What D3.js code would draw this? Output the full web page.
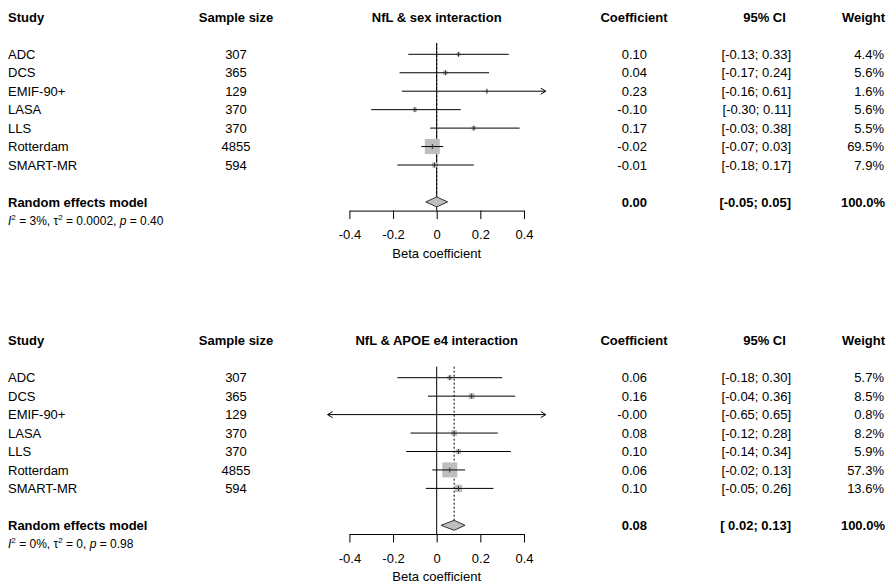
<!DOCTYPE html>
<html><head><meta charset="utf-8">
<script src="https://cdn.jsdelivr.net/npm/d3@7"></script>
<style>
body{margin:0;background:#fff}
text{font-family:"Liberation Sans",Arial,Helvetica,sans-serif;fill:#000}
</style>
</head><body>
<svg id="chart" width="896" height="584"></svg>
<script>
// ---------- data ----------
const studies = ["ADC","DCS","EMIF-90+","LASA","LLS","Rotterdam","SMART-MR"];
const sampleSize = [307,365,129,370,370,4855,594];

const sexCoef   = [0.10, 0.04, 0.23, -0.10, 0.17, -0.02, -0.01];
const sexLower  = [-0.13,-0.17,-0.16,-0.30,-0.03,-0.07,-0.18];
const sexUpper  = [0.33, 0.24, 0.61, 0.11, 0.38, 0.03, 0.17];
const sexWeight = [4.4, 5.6, 1.6, 5.6, 5.5, 69.5, 7.9];
const sexPooled = [0.00, -0.05, 0.05];           // estimate, lower, upper
const sexHet    = ["3%", "0.0002", "0.40"];      // I2, tau2, p

const apoeCoef   = [0.06, 0.16, -0.001, 0.08, 0.10, 0.06, 0.10];
const apoeLower  = [-0.18,-0.04,-0.65,-0.12,-0.14,-0.02,-0.05];
const apoeUpper  = [0.30, 0.36, 0.65, 0.28, 0.34, 0.13, 0.26];
const apoeWeight = [5.7, 8.5, 0.8, 8.2, 5.9, 57.3, 13.6];
const apoePooled = [0.08, 0.02, 0.13];
const apoeHet    = ["0%", "0", "0.98"];

const headers = ["Study","Sample size","Coefficient","95% CI","Weight"];
const tickValues = [-0.4,-0.2,0,0.2,0.4];
const xLimits = [-0.5, 0.5];

// ---------- drawing ----------
const svg = d3.select("#chart");
const FS = 13;
const x = d3.scaleLinear().domain(xLimits).range([327.6, 545.8]);
const fmt2 = v => v.toFixed(2);
const fmtLo = v => (v >= 0 ? "\u00A0" : "") + v.toFixed(2);
const fmtCI = (lo, hi) => "[" + fmtLo(lo) + "; " + hi.toFixed(2) + "]";
const fmtW = w => w.toFixed(1) + "%";
const GRAY = "#bebebe";

function txt(g, xx, yy, s, anchor, bold) {
  return g.append("text").attr("x", xx).attr("y", yy).attr("dy", "0.36em")
    .attr("text-anchor", anchor || "start")
    .attr("font-size", FS).attr("font-weight", bold ? "bold" : "normal")
    .text(s);
}

function panel(title, coef, lower, upper, weight, pooled, het, yOff) {
  const g = svg.append("g").attr("transform", `translate(0,${yOff})`);
  const step = 18.45;
  const y0 = 54.3;
  const rowY = i => y0 + i * step;
  const headY = 17.3;
  const poolY = rowY(8);
  const hetY = poolY + 18.5;
  const axisY = poolY + 8.7;
  const lineTop = y0 - 11;

  // headers
  txt(g, 8, headY, headers[0], "start", true);
  txt(g, 236, headY, headers[1], "middle", true);
  txt(g, x(0), headY, title, "middle", true);
  txt(g, 634, headY, headers[2], "middle", true);
  txt(g, 764.5, headY, headers[3], "middle", true);
  txt(g, 885, headY, headers[4], "end", true);

  // study rows text
  studies.forEach((s, i) => {
    txt(g, 8, rowY(i), s, "start", false);
    txt(g, 236, rowY(i), String(sampleSize[i]), "middle", false);
    txt(g, 647, rowY(i), fmt2(coef[i]), "end", false);
    txt(g, 791, rowY(i), fmtCI(lower[i], upper[i]), "end", false);
    txt(g, 884, rowY(i), fmtW(weight[i]), "end", false);
  });

  // pooled row text
  txt(g, 8, poolY, "Random effects model", "start", true);
  txt(g, 647, poolY, fmt2(pooled[0]), "end", true);
  txt(g, 791, poolY, fmtCI(pooled[1], pooled[2]), "end", true);
  txt(g, 885, poolY, "100.0%", "end", true);

  // heterogeneity text
  const ht = g.append("text").attr("x", 8).attr("y", hetY).attr("dy", "0.36em")
    .attr("font-size", 12);
  ht.append("tspan").attr("font-style", "italic").text("I");
  ht.append("tspan").attr("font-size", 8).attr("dy", -5).text("2");
  ht.append("tspan").attr("dy", 5).text(" = " + het[0] + ", \u03C4");
  ht.append("tspan").attr("font-size", 8).attr("dy", -5).text("2");
  ht.append("tspan").attr("dy", 5).text(" = " + het[1] + ", ");
  ht.append("tspan").attr("font-style", "italic").text("p");
  ht.append("tspan").text(" = " + het[2]);

  // reference line at 0
  g.append("line").attr("x1", x(0)).attr("x2", x(0))
    .attr("y1", lineTop).attr("y2", axisY)
    .attr("stroke", "#000").attr("stroke-width", 1);
  // pooled dotted line
  g.append("line").attr("x1", x(pooled[0])).attr("x2", x(pooled[0]))
    .attr("y1", lineTop).attr("y2", poolY - 5)
    .attr("stroke", "#000").attr("stroke-width", 1).attr("stroke-dasharray", "2,2");

  // squares
  const sz = d3.scaleSqrt().domain([0, d3.max(weight)]).range([0, 15]);
  studies.forEach((s, i) => {
    const cy = rowY(i);
    const side = sz(weight[i]);
    g.append("rect").attr("x", x(coef[i]) - side / 2).attr("y", cy - side / 2)
      .attr("width", side).attr("height", side).attr("fill", GRAY);
  });

  // CI lines with arrows when clipped
  studies.forEach((s, i) => {
    const cy = rowY(i);
    const lo = Math.max(lower[i], xLimits[0]);
    const hi = Math.min(upper[i], xLimits[1]);
    g.append("line").attr("x1", x(lo)).attr("x2", x(hi)).attr("y1", cy).attr("y2", cy)
      .attr("stroke", "#000").attr("stroke-width", 1);
    if (upper[i] > xLimits[1]) {
      const ax = x(xLimits[1]);
      g.append("path").attr("d", `M${ax-5},${cy-3}L${ax},${cy}L${ax-5},${cy+3}`)
        .attr("fill", "none").attr("stroke", "#000").attr("stroke-width", 1);
    }
    if (lower[i] < xLimits[0]) {
      const ax = x(xLimits[0]);
      g.append("path").attr("d", `M${ax+5},${cy-3}L${ax},${cy}L${ax+5},${cy+3}`)
        .attr("fill", "none").attr("stroke", "#000").attr("stroke-width", 1);
    }
    // estimate mark
    g.append("line").attr("x1", x(coef[i])).attr("x2", x(coef[i]))
      .attr("y1", cy - 2.5).attr("y2", cy + 2.5)
      .attr("stroke", "#333").attr("stroke-width", 1);
  });

  // diamond
  g.append("path")
    .attr("d", `M${x(pooled[1])},${poolY}L${x(pooled[0])},${poolY-5}L${x(pooled[2])},${poolY}L${x(pooled[0])},${poolY+5}Z`)
    .attr("fill", GRAY).attr("stroke", "#333").attr("stroke-width", 1);

  // axis
  const xa = d3.scaleLinear().domain([tickValues[0], tickValues[tickValues.length-1]])
    .range([x(tickValues[0]), x(tickValues[tickValues.length-1])]);
  const axG = g.append("g").attr("transform", `translate(0,${axisY})`)
    .call(d3.axisBottom(xa).tickValues(tickValues).tickSize(8.5).tickSizeOuter(0)
      .tickPadding(11).tickFormat(d => String(d)));
  axG.selectAll("text").attr("font-size", FS).attr("font-family", '"Liberation Sans",Arial,sans-serif').attr("fill", "#000");
  axG.selectAll("path,line").attr("stroke", "#000");
  txt(g, x(0), axisY + 42.6, "Beta coefficient", "middle", false);
}

panel("NfL & sex interaction", sexCoef, sexLower, sexUpper, sexWeight, sexPooled, sexHet, 0);
panel("NfL & APOE e4 interaction", apoeCoef, apoeLower, apoeUpper, apoeWeight, apoePooled, apoeHet, 323.4);
</script>
</body></html>
